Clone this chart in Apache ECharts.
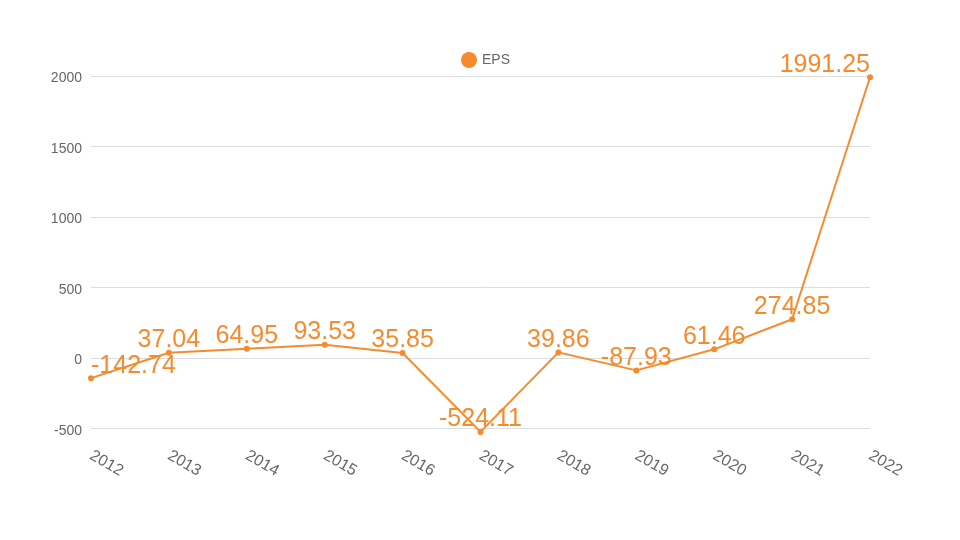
<!DOCTYPE html>
<html>
<head>
<meta charset="utf-8">
<script src="https://cdn.jsdelivr.net/npm/echarts@6/dist/echarts.min.js"></script>
<style>
html,body{margin:0;padding:0;background:#fff;}
#chart{width:960px;height:540px;}
</style>
</head>
<body>
<div id="chart"></div>
<script>
var years = ['2012','2013','2014','2015','2016','2017','2018','2019','2020','2021','2022'];
var eps = [-142.74, 37.04, 64.95, 93.53, 35.85, -524.11, 39.86, -87.93, 61.46, 274.85, 1991.25];
var seriesName = 'EPS';

var ORANGE = '#f58b2d';
var FONT = '"Liberation Sans", Arial, sans-serif';

var seriesData = eps.map(function (v, i) {
  var d = { value: v };
  if (i === 0) d.label = { align: 'left' };
  if (i === eps.length - 1) d.label = { align: 'right' };
  return d;
});

var chart = echarts.init(document.getElementById('chart'), null, { renderer: 'canvas' });
chart.setOption({
  animation: false,
  backgroundColor: '#ffffff',
  textStyle: { fontFamily: FONT },
  legend: {
    data: [seriesName],
    left: 456,
    top: 47,
    icon: 'circle',
    itemWidth: 16,
    itemHeight: 16,
    itemGap: 10,
    textStyle: { color: '#666666', fontSize: 14, fontFamily: FONT }
  },
  grid: { left: 91, right: 90, top: 76, bottom: 111.5, containLabel: false },
  xAxis: {
    type: 'category',
    data: years,
    boundaryGap: false,
    axisLine: { show: false },
    axisTick: { show: false },
    splitLine: { show: false },
    axisLabel: {
      rotate: -30,
      margin: 26,
      color: '#666666',
      fontSize: 16,
      fontFamily: FONT,
      interval: 0
    }
  },
  yAxis: {
    type: 'value',
    min: -500,
    max: 2000,
    interval: 500,
    axisLine: { show: false },
    axisTick: { show: false },
    splitLine: { lineStyle: { color: '#dddddd', width: 1 } },
    axisLabel: {
      color: '#666666', fontSize: 14, fontFamily: FONT, margin: 9,
      formatter: function (v) { return '{a|' + v + '}'; },
      rich: { a: { color: '#666666', fontSize: 14, fontFamily: FONT, padding: [5, 0, 0, 0] } }
    }
  },
  series: [{
    name: seriesName,
    type: 'line',
    data: seriesData,
    clip: false,
    symbol: 'circle',
    symbolSize: 6,
    color: ORANGE,
    lineStyle: { color: ORANGE, width: 2 },
    itemStyle: { color: ORANGE },
    label: {
      show: true,
      position: 'top',
      distance: 2,
      offset: [0, 5],
      color: ORANGE,
      fontSize: 25,
      fontFamily: FONT,
      formatter: function (p) { return String(p.value); }
    }
  }]
});
</script>
</body>
</html>
